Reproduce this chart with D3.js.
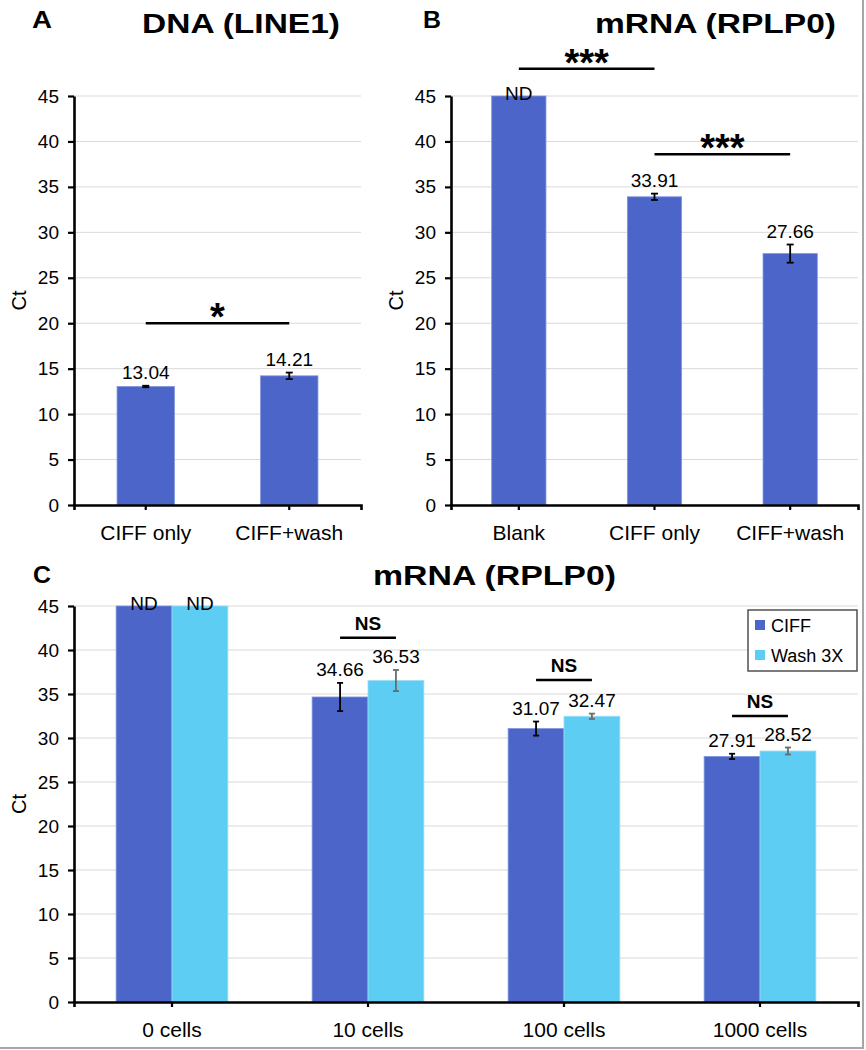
<!DOCTYPE html>
<html><head><meta charset="utf-8">
<script src="https://cdn.jsdelivr.net/npm/d3@7"></script>
<style>
body{margin:0;background:#fff}
svg{display:block}
text{font-family:"Liberation Sans",Arial,Helvetica,sans-serif;fill:#000}
</style>
</head><body>
<svg id="chart" width="866" height="1050"></svg>
<script>
// ---------- data ----------
const yTicks = [0, 5, 10, 15, 20, 25, 30, 35, 40, 45];

const catsA = ["CIFF only", "CIFF+wash"];
const valsA = [13.04, 14.21];
const errA = [0.08, 0.36];
const labelsA = ["13.04", "14.21"];

const catsB = ["Blank", "CIFF only", "CIFF+wash"];
const valsB = [45, 33.91, 27.66];
const errB = [0, 0.35, 1.0];
const labelsB = ["ND", "33.91", "27.66"];

const catsC = ["0 cells", "10 cells", "100 cells", "1000 cells"];
const seriesC = ["CIFF", "Wash 3X"];
const ciffC = [45, 34.66, 31.07, 27.91];
const ciffErrC = [0, 1.6, 0.8, 0.3];
const ciffLabelsC = ["ND", "34.66", "31.07", "27.91"];
const washC = [45, 36.53, 32.47, 28.52];
const washErrC = [0, 1.2, 0.3, 0.4];
const washLabelsC = ["ND", "36.53", "32.47", "28.52"];

const sigA = [{from: "CIFF only", to: "CIFF+wash", level: 20, text: "*"}];
const sigB = [
  {from: "Blank", to: "CIFF only", level: 48, text: "***"},
  {from: "CIFF only", to: "CIFF+wash", level: 38.6, text: "***"}
];
const sigC = [
  {cat: "10 cells", level: 41.4, text: "NS"},
  {cat: "100 cells", level: 36.6, text: "NS"},
  {cat: "1000 cells", level: 32.5, text: "NS"}
];

// ---------- style ----------
const DARK = "#4b66c8";
const LIGHT = "#5ecdf3";
const GRID = "#d9d9d9";

const svg = d3.select("#chart");

function frame(cfg) {
  const g = svg.append("g");
  const y = d3.scaleLinear().domain([0, 45]).range([cfg.bottom, cfg.top]);
  const x = d3.scaleBand().domain(cfg.cats).range([cfg.left, cfg.right]).padding(0);
  g.append("g").selectAll("line").data(yTicks.filter(t => t > 0)).join("line")
    .attr("x1", cfg.left).attr("x2", cfg.right)
    .attr("y1", d => y(d)).attr("y2", d => y(d))
    .attr("stroke", GRID).attr("stroke-width", 1);
  const ya = g.append("g").attr("transform", `translate(${cfg.left},0)`)
    .call(d3.axisLeft(y).tickValues(yTicks).tickSize(6).tickSizeOuter(0).tickPadding(9));
  ya.select(".domain").attr("stroke", "#000").attr("stroke-width", 2.6);
  ya.selectAll(".tick line").attr("stroke", "#000").attr("stroke-width", 2.2);
  ya.selectAll(".tick text").attr("font-size", 19).attr("font-family", "Liberation Sans, Arial, sans-serif").attr("fill", "#000");
  g.append("text").attr("transform", `translate(${cfg.ctX},${(cfg.top + cfg.bottom) / 2}) rotate(-90)`)
    .attr("text-anchor", "middle").attr("font-size", 20).text("Ct");
  return {g, x, y};
}

function xAxis(p, cfg) {
  const xa = p.g.append("g").attr("transform", `translate(0,${cfg.bottom})`)
    .call(d3.axisBottom(p.x).tickSize(5).tickSizeOuter(5).tickPadding(15));
  xa.select(".domain").attr("stroke", "#000").attr("stroke-width", 2.6);
  xa.selectAll(".tick line").attr("stroke", "#000").attr("stroke-width", 2.2);
  xa.selectAll(".tick text").attr("font-size", 21).attr("font-family", "Liberation Sans, Arial, sans-serif").attr("fill", "#000");
}

function errBar(g, cx, y, v, e, color, cap) {
  if (!(e > 0)) return;
  g.append("line").attr("x1", cx).attr("x2", cx).attr("y1", y(v - e)).attr("y2", y(v + e))
    .attr("stroke", color).attr("stroke-width", 1.8);
  [v - e, v + e].forEach(t => {
    g.append("line").attr("x1", cx - cap / 2).attr("x2", cx + cap / 2).attr("y1", y(t)).attr("y2", y(t))
      .attr("stroke", color).attr("stroke-width", 1.8);
  });
}

function valueLabel(g, cx, y, v, e, txt) {
  const yy = txt === "ND" ? y(v) + 4 : y(v + e) - 7;
  g.append("text").attr("x", cx).attr("y", yy).attr("text-anchor", "middle")
    .attr("font-size", 19).text(txt);
}

function simplePanel(cfg, cats, vals, errs, labels, sigs) {
  const p = frame(Object.assign({cats}, cfg));
  const bw = p.x.bandwidth() * 0.4;
  const cxOf = c => p.x(c) + p.x.bandwidth() / 2;
  p.g.append("g").selectAll("rect").data(cats).join("rect")
    .attr("x", c => cxOf(c) - bw / 2).attr("width", bw)
    .attr("y", (c, i) => p.y(vals[i])).attr("height", (c, i) => p.y(0) - p.y(vals[i]))
    .attr("fill", DARK).attr("stroke", "#7f95dd").attr("stroke-width", 0.8);
  xAxis(p, cfg);
  cats.forEach((c, i) => {
    errBar(p.g, cxOf(c), p.y, vals[i], errs[i], "#000", 7);
    valueLabel(p.g, cxOf(c), p.y, vals[i], errs[i], labels[i]);
  });
  sigs.forEach(s => {
    const ly = p.y(s.level);
    p.g.append("line").attr("x1", cxOf(s.from)).attr("x2", cxOf(s.to)).attr("y1", ly).attr("y2", ly)
      .attr("stroke", "#000").attr("stroke-width", 2.5);
    p.g.append("text").attr("x", (cxOf(s.from) + cxOf(s.to)) / 2).attr("y", ly + 7)
      .attr("text-anchor", "middle").attr("font-size", 38).attr("font-weight", "bold").text(s.text);
  });
  return p;
}

// ---------- Panel A ----------
const cfgA = {left: 74, right: 361, top: 96, bottom: 505, ctX: 26};
simplePanel(cfgA, catsA, valsA, errA, labelsA, sigA);

// ---------- Panel B ----------
const cfgB = {left: 451, right: 858, top: 96, bottom: 505, ctX: 403};
simplePanel(cfgB, catsB, valsB, errB, labelsB, sigB);

// ---------- Panel C ----------
const cfgC = {left: 74, right: 858, top: 606, bottom: 1002, ctX: 26, cats: catsC};
const pC = frame(cfgC);
const bwC = pC.x.bandwidth() * 0.285;
const cC = c => pC.x(c) + pC.x.bandwidth() / 2;
const seriesData = [
  {name: seriesC[0], vals: ciffC, errs: ciffErrC, labels: ciffLabelsC, color: DARK, stroke: "#7f95dd", err: "#000", off: -0.5},
  {name: seriesC[1], vals: washC, errs: washErrC, labels: washLabelsC, color: LIGHT, stroke: "#9adcf6", err: "#6b6b6b", off: 0.5}
];
seriesData.forEach(s => {
  pC.g.append("g").selectAll("rect").data(catsC).join("rect")
    .attr("x", c => cC(c) + s.off * bwC - bwC / 2).attr("width", bwC)
    .attr("y", (c, i) => pC.y(s.vals[i])).attr("height", (c, i) => pC.y(0) - pC.y(s.vals[i]))
    .attr("fill", s.color).attr("stroke", s.stroke).attr("stroke-width", 0.8);
});
xAxis(pC, cfgC);
seriesData.forEach(s => {
  catsC.forEach((c, i) => {
    const cx = cC(c) + s.off * bwC;
    errBar(pC.g, cx, pC.y, s.vals[i], s.errs[i], s.err, 6);
    valueLabel(pC.g, cx, pC.y, s.vals[i], s.errs[i], s.labels[i]);
  });
});
sigC.forEach(s => {
  const ly = pC.y(s.level);
  const x1 = cC(s.cat) - 0.5 * bwC, x2 = cC(s.cat) + 0.5 * bwC;
  pC.g.append("line").attr("x1", x1).attr("x2", x2).attr("y1", ly).attr("y2", ly)
    .attr("stroke", "#000").attr("stroke-width", 2.5);
  pC.g.append("text").attr("x", (x1 + x2) / 2).attr("y", ly - 8).attr("text-anchor", "middle")
    .attr("font-size", 19).attr("font-weight", "bold").text(s.text);
});

// legend
const lg = svg.append("g").attr("transform", "translate(748,610)");
lg.append("rect").attr("width", 109).attr("height", 61).attr("fill", "#fff")
  .attr("stroke", "#505050").attr("stroke-width", 1.5);
seriesData.forEach((s, i) => {
  lg.append("rect").attr("x", 7).attr("y", 10 + i * 30).attr("width", 10).attr("height", 10).attr("fill", s.color);
  lg.append("text").attr("x", 23).attr("y", 21.5 + i * 30).attr("font-size", 18).text(s.name);
});

// ---------- titles ----------
function bold(x, y, size, len, txt) {
  svg.append("text").attr("x", x).attr("y", y).attr("font-size", size).attr("font-weight", "bold")
    .attr("textLength", len).attr("lengthAdjust", "spacingAndGlyphs").text(txt);
}
bold(32, 28, 23, 20, "A");
bold(423, 28, 23, 18, "B");
bold(33, 583, 23, 18, "C");
bold(142, 33, 27, 198, "DNA (LINE1)");
bold(595, 33, 27, 241, "mRNA (RPLP0)");
bold(373, 585, 27, 243, "mRNA (RPLP0)");

// image border (right and bottom)
svg.append("line").attr("x1", 863).attr("x2", 863).attr("y1", 0).attr("y2", 1048).attr("stroke", "#a6a6a6").attr("stroke-width", 2);
svg.append("line").attr("x1", 0).attr("x2", 864).attr("y1", 1048).attr("y2", 1048).attr("stroke", "#a6a6a6").attr("stroke-width", 2);
</script>
</body></html>
